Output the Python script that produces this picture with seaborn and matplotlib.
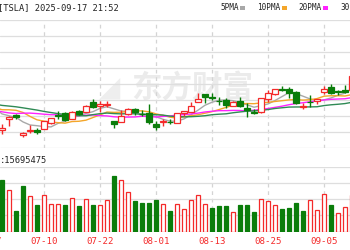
import numpy as np
import pandas as pd
import matplotlib
matplotlib.use("Agg")
import matplotlib.pyplot as plt
import matplotlib.transforms as mtrans
from matplotlib.patches import Rectangle
import seaborn as sns

sns.set_theme(style="white")
plt.rcParams['font.family'] = ['DejaVu Sans Mono', 'DejaVu Sans']

# ---------------- data ----------------
prior_dates = ['05-16', '05-19', '05-20', '05-21', '05-22', '05-23', '05-27', '05-28', '05-29', '05-30',
               '06-02', '06-03', '06-04', '06-05', '06-06', '06-09', '06-10', '06-11', '06-12', '06-13',
               '06-16', '06-17', '06-18', '06-20', '06-23', '06-24', '06-25', '06-26', '06-27', '06-30']
prior_closes = [349.98, 342.09, 343.82, 334.62, 341.04, 339.34, 362.89, 356.90, 358.43, 346.46,
                342.69, 344.27, 332.05, 284.70, 295.14, 308.58, 326.09, 326.43, 319.11, 325.31,
                329.13, 316.35, 322.05, 322.16, 348.68, 340.47, 327.55, 325.78, 323.63, 317.66]

dates = ['07-01', '07-02', '07-03', '07-07', '07-08', '07-09', '07-10', '07-11', '07-14', '07-15',
         '07-16', '07-17', '07-18', '07-21', '07-22', '07-23', '07-24', '07-25', '07-28', '07-29',
         '07-30', '07-31', '08-01', '08-04', '08-05', '08-06', '08-07', '08-08', '08-11', '08-12',
         '08-13', '08-14', '08-15', '08-18', '08-19', '08-20', '08-21', '08-22', '08-25', '08-26',
         '08-27', '08-28', '08-29', '09-02', '09-03', '09-04', '09-05', '09-08', '09-09', '09-10',
         '09-11']
opens = [298.46, 312.63, 317.99, 291.37, 297.00, 297.55, 300.05, 307.89, 317.73, 319.68,
         312.80, 323.15, 321.66, 334.40, 329.74, 330.90, 310.00, 308.74, 318.45, 325.55,
         319.54, 319.61, 306.21, 309.08, 308.95, 307.89, 319.79, 321.43, 335.00, 345.00,
         341.50, 335.76, 337.66, 329.62, 335.79, 327.00, 322.08, 321.66, 338.90, 344.93,
         351.94, 350.91, 347.23, 328.23, 335.20, 336.15, 348.00, 354.64, 348.44, 350.55,
         350.17]
highs = [305.89, 316.83, 318.45, 296.15, 304.05, 300.15, 310.48, 314.09, 322.60, 321.20,
         323.50, 324.34, 330.90, 338.00, 335.41, 336.20, 310.15, 323.63, 326.25, 326.25,
         324.74, 331.62, 309.31, 312.12, 312.45, 320.47, 322.40, 335.15, 346.64, 345.26,
         346.00, 340.47, 339.30, 336.27, 340.55, 332.94, 324.90, 340.25, 349.53, 351.90,
         355.39, 353.55, 348.75, 333.33, 343.33, 338.89, 355.87, 358.44, 350.77, 356.33,
         369.50]
lows = [293.21, 303.82, 312.76, 288.77, 294.35, 293.55, 300.00, 305.65, 312.67, 310.50,
        312.62, 317.06, 321.42, 326.88, 321.55, 328.67, 300.41, 308.01, 318.25, 318.25,
        316.01, 305.71, 297.82, 303.00, 305.50, 306.93, 316.16, 320.98, 334.15, 332.94,
        337.72, 330.40, 327.02, 329.59, 327.85, 315.32, 318.68, 319.69, 335.03, 343.72,
        349.16, 340.26, 331.70, 325.60, 328.51, 331.48, 344.68, 344.84, 343.82, 346.07,
        348.50]
closes = [300.71, 315.65, 315.35, 293.94, 297.81, 295.88, 309.87, 313.51, 316.90, 310.78,
          321.67, 319.41, 329.65, 328.49, 332.11, 332.56, 305.30, 316.06, 325.59, 321.20,
          319.04, 308.27, 302.63, 309.26, 308.72, 319.91, 322.27, 329.65, 339.03, 340.84,
          339.38, 335.58, 330.56, 335.16, 329.31, 323.90, 320.11, 340.01, 346.60, 351.67,
          349.60, 345.98, 333.87, 329.36, 334.09, 338.53, 350.84, 346.40, 346.97, 347.79,
          368.81]
volumes_m = [145, 118, 58, 130, 100, 76, 103, 78, 78, 76,
             96, 73, 93, 76, 76, 90, 156, 147, 111, 85,
             82, 82, 88, 78, 57, 78, 64, 90, 103, 79,
             67, 73, 73, 56, 76, 76, 54, 93, 85, 76,
             64, 67, 80, 57, 88, 60, 107, 76, 51, 70,
             104]
tick_labels = ['06-27', '07-10', '07-22', '08-01', '08-13', '08-25', '09-05']
ma_periods = [5, 10, 20, 30]
ma_names = ['5PMA', '10PMA', '20PMA', '30PMA']
ma_colors = ['#a8a8a8', '#f4a62a', '#ff22ff', '#2f8a55']
header_text = '[TSLA] 2025-09-17 21:52'
vol_text = ':15695475'
watermark = '东方财富'

RED = '#f42a2a'
GREEN = '#0a7d0a'

# ---------------- frame ----------------
all_dates = prior_dates + dates
all_closes = pd.Series(prior_closes + closes)
xpos_all = np.arange(len(all_dates)) - len(prior_dates)
pos = {d: x for d, x in zip(all_dates, xpos_all)}
xs = np.array([pos[d] for d in dates], dtype=float)

W, H = 350, 250
fig = plt.figure(figsize=(W / 100, H / 100), dpi=100)
fig.patch.set_facecolor('white')


def fy(y):
    return 1 - y / H


ax = fig.add_axes([0, fy(147.5), 1, (147.5 - 19.5) / H])
axv = fig.add_axes([0, fy(231.5), 1, (231.5 - 166.5) / H])
xlo, xhi = -2 / 7, 348 / 7
ymin, ymax = 275.4, 441.8
tick_x = [pos[d] for d in tick_labels]
for a in (ax, axv):
    a.set_facecolor('none')
    for s in a.spines.values():
        s.set_visible(False)
    a.set_xticks(tick_x)
    a.tick_params(left=False, bottom=False, labelleft=False, labelbottom=False)
ax.set_yticks(np.linspace(ymin, ymax, 9))
axv.set_yticks(np.linspace(0, 184, 5))
for a in (ax, axv):
    a.grid(axis='y', color='#dedede', lw=0.9, ls='-')
    a.grid(axis='x', color='#d4d4d4', lw=0.9, ls=(0, (3, 3)))
    a.set_axisbelow(True)

# watermark
ax.text(192 / W, fy(88), watermark, transform=fig.transFigure, ha='center', va='center',
        fontsize=22, fontweight='bold', color='#ebebeb', family=['Noto Sans CJK SC'], zorder=0.5)
ax.text(110 / W, fy(88), '◢', transform=fig.transFigure, ha='center', va='center',
        fontsize=20, color='#eeeeee', zorder=0.5, family=['DejaVu Sans'])

# moving averages
for p, c in zip(ma_periods, ma_colors):
    ma = all_closes.rolling(p).mean()
    dfm = pd.DataFrame({'x': xpos_all, 'y': ma}).dropna()
    sns.lineplot(data=dfm, x='x', y='y', ax=ax, color=c, lw=1.0, legend=False, zorder=2)

# candles
bw = 0.72
for x, o, h, l, c in zip(xs, opens, highs, lows, closes):
    up = c >= o
    col = RED if up else GREEN
    ax.vlines(x, l, h, color=col, lw=1.0, zorder=3)
    lo_b = min(o, c)
    hb = max(abs(c - o), 0.25)
    ax.add_patch(Rectangle((x - bw / 2, lo_b), bw, hb, facecolor='white' if up else GREEN,
                           edgecolor=col, lw=0.9, zorder=4))

# volume
prev = [prior_closes[-1]] + closes[:-1]
vup = [c >= p for c, p in zip(closes, prev)]
axv.bar(xs, volumes_m, width=0.62,
        color=['white' if u else GREEN for u in vup],
        edgecolor=[RED if u else GREEN for u in vup], lw=0.9, zorder=3)

# limits after ticks/plots (ticks outside view must not expand limits)
for a in (ax, axv):
    a.set_xlim(xlo, xhi)
    a.set_xlabel('')
    a.set_ylabel('')
ax.set_ylim(ymin, ymax)
axv.set_ylim(0, 184)

# date labels
tr = mtrans.blended_transform_factory(axv.transData, fig.transFigure)
for d in tick_labels:
    axv.text(pos[d], fy(241), d, transform=tr, ha='center', va='center', color=RED,
             fontsize=6.6, clip_on=False)

# header texts
fig.text(-2 / W, fy(7.5), header_text, ha='left', va='center', fontsize=6.3, color='#222222')
fig.text(0 / W, fy(160.5), vol_text, ha='left', va='center', fontsize=6.3, color='#222222')

lx = [220, 257, 298, 340]
for name, c, x in zip(ma_names, ma_colors, lx):
    fig.text(x / W, fy(7.5), name, ha='left', va='center', fontsize=5.6, color='#222222')
mk = [240, 282, 323, 365]
for c, x in zip(ma_colors, mk):
    fig.patches.append(Rectangle((x / W, fy(9.5)), 5 / W, 3 / H, transform=fig.transFigure,
                                 facecolor=c, edgecolor='none', figure=fig))

fig.savefig('out.png', dpi=100, facecolor='white')
